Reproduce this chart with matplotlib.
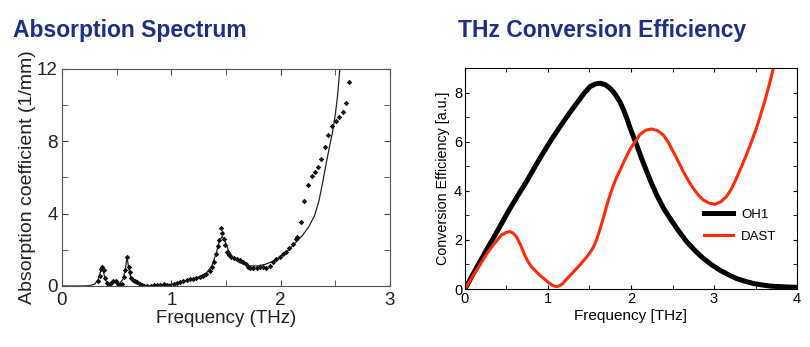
import matplotlib.pyplot as plt
from matplotlib.ticker import MultipleLocator

# absorption spectrum: measured points
abs_freq = [0.33, 0.345, 0.36, 0.37, 0.38, 0.395, 0.41, 0.43, 0.45, 0.47, 0.49, 0.51, 0.53,
            0.55, 0.57, 0.58, 0.595, 0.61, 0.62, 0.635, 0.65, 0.67, 0.69, 0.71, 0.73, 0.75,
            0.78, 0.81, 0.84, 0.87, 0.90, 0.93, 0.96, 0.99, 1.02, 1.05, 1.08, 1.11, 1.14,
            1.17, 1.20, 1.23, 1.26, 1.29, 1.32, 1.35, 1.37, 1.39, 1.41, 1.425, 1.44, 1.45,
            1.465, 1.48, 1.495, 1.51, 1.53, 1.55, 1.57, 1.60, 1.63, 1.66, 1.68, 1.70, 1.72,
            1.75, 1.78, 1.81, 1.84, 1.87, 1.90, 1.93, 1.96, 1.99, 2.02, 2.05, 2.08, 2.11,
            2.14, 2.15, 2.186, 2.217, 2.25, 2.282, 2.312, 2.342, 2.373, 2.407, 2.437, 2.468,
            2.502, 2.535, 2.566, 2.596, 2.621]
abs_meas = [0.3, 0.55, 0.95, 1.05, 0.9, 0.45, 0.15, 0.05, 0.15, 0.3, 0.25, 0.1, 0.05,
            0.1, 0.5, 0.9, 1.6, 1.05, 0.8, 0.45, 0.35, 0.3, 0.2, 0.12, 0.05, 0.02,
            0.0, 0.02, 0.03, 0.05, 0.08, 0.1, 0.05, 0.02, 0.1, 0.18, 0.22, 0.28, 0.32,
            0.36, 0.4, 0.45, 0.52, 0.57, 0.65, 0.85, 1.05, 1.35, 1.75, 2.2, 2.55, 3.2,
            2.95, 2.6, 2.25, 1.9, 1.7, 1.6, 1.55, 1.5, 1.45, 1.35, 1.2, 1.05, 0.98,
            0.98, 1.02, 1.05, 1.03, 0.98, 1.08, 1.3, 1.5, 1.62, 1.75, 1.9, 2.1, 2.3,
            2.6, 2.73, 3.56, 4.7, 5.6, 6.07, 6.3, 6.56, 7.02, 7.67, 8.35, 8.85,
            9.14, 9.36, 9.6, 10.1, 11.27]

# absorption spectrum: fit curve
fit_freq = [0.0, 0.2, 0.25, 0.3, 0.33, 0.35, 0.365, 0.38, 0.40, 0.43, 0.46, 0.48, 0.50,
            0.53, 0.56, 0.58, 0.595, 0.61, 0.63, 0.66, 0.70, 0.75, 0.85, 0.95, 1.05, 1.15,
            1.25, 1.32, 1.37, 1.41, 1.44, 1.465, 1.49, 1.52, 1.56, 1.62, 1.70, 1.78, 1.86,
            1.95, 2.05, 2.12, 2.2, 2.26, 2.31, 2.35, 2.38, 2.42, 2.45, 2.474, 2.50, 2.52,
            2.541, 2.56]
fit_abs = [0, 0, 0.02, 0.1, 0.35, 0.75, 1.0, 0.75, 0.3, 0.12, 0.15, 0.2, 0.12,
           0.15, 0.4, 0.95, 1.6, 1.0, 0.45, 0.2, 0.08, 0.03, 0.02, 0.06, 0.15, 0.3,
           0.5, 0.72, 1.1, 1.8, 2.5, 2.75, 2.5, 2.0, 1.6, 1.3, 1.12, 1.1, 1.2,
           1.42, 1.85, 2.3, 2.8, 3.3, 3.9, 4.7, 5.6, 6.9, 7.8, 8.5, 9.5, 10.5,
           12.0, 13.2]

# conversion efficiency, OH1
oh1_freq = [0, 0.09, 0.18, 0.26, 0.34, 0.43, 0.52, 0.63, 0.74, 0.84, 0.94, 1.04, 1.145,
            1.245, 1.345, 1.43, 1.506, 1.57, 1.63, 1.69, 1.75, 1.81, 1.867, 1.91, 1.95, 1.99,
            2.03, 2.07, 2.13, 2.19, 2.25, 2.31, 2.39, 2.47, 2.57, 2.67, 2.77, 2.87, 2.97,
            3.07, 3.17, 3.27, 3.37, 3.47, 3.57, 3.68, 3.84, 4.0]
oh1_eff = [0, 0.56, 1.11, 1.6, 2.06, 2.6, 3.15, 3.77, 4.37, 4.96, 5.53, 6.08, 6.61,
           7.1, 7.56, 7.95, 8.24, 8.35, 8.38, 8.32, 8.17, 7.93, 7.62, 7.3, 6.95, 6.55,
           6.2, 5.85, 5.3, 4.78, 4.28, 3.83, 3.3, 2.88, 2.38, 1.93, 1.57, 1.25, 0.99,
           0.77, 0.59, 0.43, 0.32, 0.23, 0.17, 0.12, 0.09, 0.07]

# conversion efficiency, DAST
dast_freq = [0, 0.09, 0.18, 0.26, 0.34, 0.44, 0.50, 0.54, 0.58, 0.62, 0.67, 0.72, 0.76,
             0.80, 0.85, 0.90, 0.96, 1.02, 1.06, 1.10, 1.14, 1.18, 1.24, 1.31, 1.39, 1.47,
             1.51, 1.55, 1.59, 1.63, 1.67, 1.71, 1.75, 1.79, 1.83, 1.87, 1.93, 1.99, 2.05,
             2.11, 2.18, 2.25, 2.32, 2.39, 2.45, 2.51, 2.57, 2.63, 2.69, 2.75, 2.81, 2.87,
             2.94, 3.01, 3.08, 3.15, 3.21, 3.27, 3.33, 3.39, 3.45, 3.51, 3.56, 3.61, 3.66,
             3.71, 3.76]
dast_eff = [0, 0.5, 0.98, 1.42, 1.79, 2.2, 2.31, 2.34, 2.28, 2.13, 1.8, 1.38, 1.12,
            0.91, 0.74, 0.57, 0.4, 0.23, 0.14, 0.1, 0.13, 0.23, 0.46, 0.71, 1.0, 1.32,
            1.5, 1.72, 2.05, 2.47, 2.93, 3.42, 3.85, 4.24, 4.58, 4.85, 5.3, 5.7, 6.0,
            6.3, 6.47, 6.52, 6.45, 6.27, 5.97, 5.59, 5.19, 4.78, 4.42, 4.1, 3.83, 3.63,
            3.5, 3.45, 3.55, 3.76, 4.08, 4.51, 4.98, 5.46, 5.99, 6.54, 7.08, 7.63, 8.25,
            8.92, 9.6]

navy = '#1c2f8c'
fig = plt.figure(figsize=(8.1, 3.47), dpi=100)
plt.rcParams['font.family'] = ['Liberation Sans', 'DejaVu Sans']

fig.text(0.016, 0.893, 'Absorption Spectrum', color=navy, fontsize=16.5,
         fontweight='bold', va='baseline')
fig.text(0.565, 0.893, 'THz Conversion Efficiency', color=navy, fontsize=16.5,
         fontweight='bold', va='baseline')

# left panel
ax1 = fig.add_axes([0.0765, 0.1758, 0.405, 0.6254])
ax1.plot(fit_freq, fit_abs, color='#222222', lw=0.9)
ax1.plot(abs_freq, abs_meas, 'D', color='#111111', ms=2.8, mew=0)
ax1.set_xlim(0, 3)
ax1.set_ylim(0, 12)
ax1.xaxis.set_major_locator(MultipleLocator(1))
ax1.xaxis.set_minor_locator(MultipleLocator(0.5))
ax1.yaxis.set_major_locator(MultipleLocator(4))
ax1.yaxis.set_minor_locator(MultipleLocator(2))
ax1.tick_params(which='both', direction='in', top=True, right=True, colors='#444444',
                labelcolor='#222222', labelsize=13.5, length=4)
ax1.tick_params(axis='x', pad=4)
ax1.tick_params(axis='y', pad=3)
for s in ax1.spines.values():
    s.set_color('#555555')
ax1.set_xlabel('Frequency (THz)', fontsize=13.5, color='#222222', labelpad=1)
ax1.set_ylabel('Absorption coefficient (1/mm)', fontsize=14, color='#222222', labelpad=1)

# right panel
ax2 = fig.add_axes([0.574, 0.167, 0.41, 0.637])
ax2.plot(oh1_freq, oh1_eff, color='black', lw=3.6, label='OH1', solid_joinstyle='round')
ax2.plot(dast_freq, dast_eff, color='#ff2a0a', lw=2.2, label='DAST', solid_joinstyle='round')
ax2.set_xlim(0, 4)
ax2.set_ylim(0, 9)
ax2.xaxis.set_major_locator(MultipleLocator(1))
ax2.xaxis.set_minor_locator(MultipleLocator(0.5))
ax2.yaxis.set_major_locator(MultipleLocator(2))
ax2.yaxis.set_minor_locator(MultipleLocator(1))
ax2.tick_params(which='both', direction='in', top=True, right=True, length=3,
                labelsize=10.5, pad=2)
ax2.set_xlabel('Frequency [THz]', fontsize=11, labelpad=2)
ax2.set_ylabel('Conversion Efficiency [a.u.]', fontsize=10.3, labelpad=3)
ax2.legend(loc='upper left', bbox_to_anchor=(0.70, 0.395), frameon=False, fontsize=9.5,
           handlelength=2.2, handletextpad=0.6, labelspacing=0.75, borderpad=0)

fig.savefig('out.png', dpi=100)
